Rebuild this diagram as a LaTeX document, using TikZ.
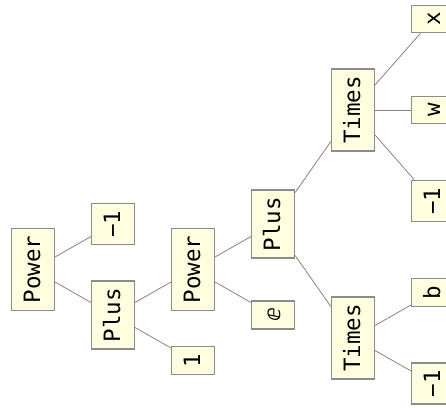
\documentclass[tikz,border=0pt]{standalone}
\usepackage{fontspec}
\setmonofont{DejaVu Sans Mono}
\newfontfamily\symfont{DejaVu Sans}
\definecolor{boxfill}{RGB}{255,255,224}
\definecolor{boxline}{RGB}{140,140,140}
\definecolor{edgeline}{RGB}{154,122,122}
\begin{document}
\begin{tikzpicture}[x=1pt,y=1pt,
		grow'=right,
		level distance=80pt,
		level 1/.style={sibling distance=91pt},
		level 2/.style={sibling distance=91pt},
		level 3/.style={sibling distance=91pt},
		level 4/.style={sibling distance=228pt},
		level 5/.style={sibling distance=91pt},
		box/.style={draw=boxline,line width=1.3pt,fill=boxfill,rotate=90,
			font=\fontsize{22.5}{26}\selectfont\ttfamily,
			inner xsep=7pt,inner ysep=0pt,minimum height=43pt,
			text height=17pt,text depth=3pt},
		edge from parent/.style={draw=edgeline,line width=0.8pt} ]
	\useasboundingbox (0,0) rectangle (446,-407);
	\clip (0,0) rectangle (446,-407);
	\node [box] (pow1) at (33,-269.5) {Power}
	  child { node [box] (m1) {−1} }
	  child {
		node [box] (plus1) {Plus}
		child {
			node [box] (pow2) {Power}
			child {
				node [box] (plus2) {Plus}
				child {
					node [box] (times1) {Times}
					child { node [box] (m2) {x} }
					child { node [box] (w) {w} }
					child { node [box] (m3) {−1} }
				}
				child {
					node [box] (times2) {Times}
					child { node [box] (b) {b} }
					child { node [box] (m4) {−1} }
				}
			}
			child { node [box] (e) {\symfont ⅇ} }
		}
		child { node [box] (one) {1} }
	  };
	\end{tikzpicture}
\end{document}
